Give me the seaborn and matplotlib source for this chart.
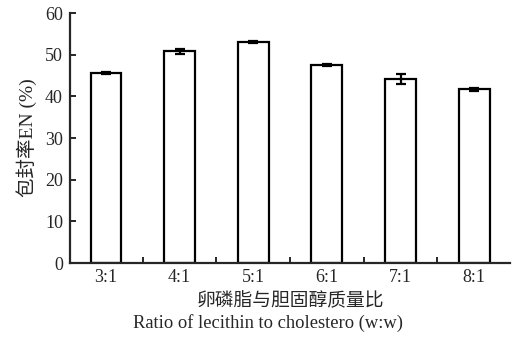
import numpy as np
import pandas as pd
import matplotlib
matplotlib.use("Agg")
import matplotlib.pyplot as plt
import seaborn as sns

# data
ratios = ['3:1', '4:1', '5:1', '6:1', '7:1', '8:1']
ee = [45.6, 50.9, 53.1, 47.6, 44.2, 41.7]
err = [0.3, 0.6, 0.3, 0.2, 1.2, 0.4]

df = pd.DataFrame({'ratio': ratios, 'ee': ee, 'err': err})

sns.set_style('ticks')
plt.rcParams['font.family'] = ['Liberation Serif', 'Noto Sans CJK SC']
plt.rcParams['axes.linewidth'] = 1.6
plt.rcParams['xtick.direction'] = 'in'
plt.rcParams['ytick.direction'] = 'in'

fig = plt.figure(figsize=(5.18, 3.44), dpi=100)
ax = fig.add_axes([0.135, 0.235, 0.85, 0.727])

sns.barplot(data=df, x='ratio', y='ee', color='white', edgecolor='black',
            linewidth=1.6, width=0.42, errorbar=None, ax=ax)
ax.errorbar(np.arange(len(ratios)), df['ee'], yerr=df['err'], fmt='none',
            ecolor='black', elinewidth=1.6, capsize=3.5, capthick=1.6)

ax.set_ylim(0, 60)
ax.set_xlim(-0.49, 5.49)
ax.set_yticks(range(0, 61, 10))
ax.tick_params(axis='y', direction='in', length=4, width=1.4, labelsize=13, pad=5)
ax.tick_params(axis='x', which='major', length=0, labelsize=13, pad=4)
ax.set_xticks(np.arange(0.5, 5.0, 1.0), minor=True)
ax.tick_params(axis='x', which='minor', direction='in', length=4, width=1.4)
sns.despine(ax=ax)

ax.set_ylabel('包封率EN (%)', fontsize=14, labelpad=6)
ax.set_xlabel('卵磷脂与胆固醇质量比', fontsize=13.5, labelpad=5)
fig.text(0.517, 0.062, 'Ratio of lecithin to cholestero (w:w)',
         ha='center', va='center', fontsize=13.3)

fig.savefig('out.png', dpi=100)
